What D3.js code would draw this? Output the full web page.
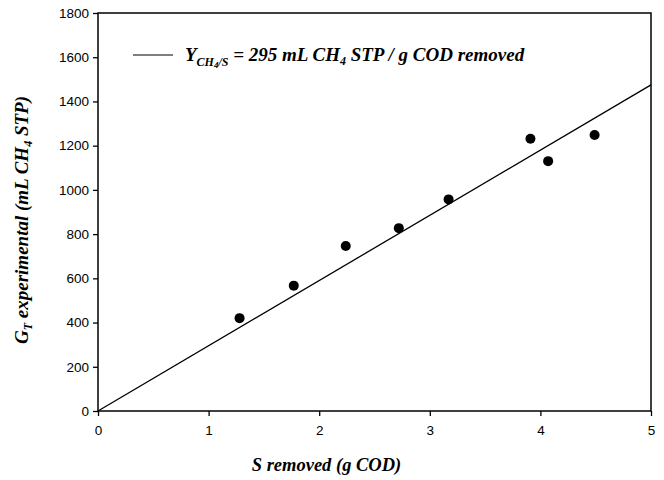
<!DOCTYPE html>
<html>
<head>
<meta charset="utf-8">
<script src="https://cdn.jsdelivr.net/npm/d3@7"></script>
<style>
  body { margin: 0; background: #fff; }
  .tick text { font-family: Arial, "Liberation Sans", sans-serif; font-size: 13.5px; }
  .title { font-family: "Times New Roman", "Liberation Serif", serif; font-weight: bold; font-style: italic; }
</style>
</head>
<body>
<div id="chart"></div>
<script>
// measured data: S removed (g COD) vs GT experimental (mL CH4 STP)
const sRemoved = [1.28, 1.77, 2.24, 2.72, 3.17, 3.91, 4.07, 4.49];
const gtExperimental = [420, 567, 746, 827, 957, 1231, 1130, 1248];
const yieldCoef = 295; // mL CH4 STP / g COD removed
const lineX = [0, 5];
const xTicks = [0, 1, 2, 3, 4, 5];
const yTicks = [0, 200, 400, 600, 800, 1000, 1200, 1400, 1600, 1800];

const margin = {top: 13, right: 13, bottom: 69, left: 98};
const width = 664, height = 480;
const w = width - margin.left - margin.right;
const h = height - margin.top - margin.bottom;

const svg = d3.select('#chart').append('svg')
  .attr('width', width).attr('height', height);

const chart = svg.append('g')
  .attr('transform', `translate(${margin.left},${margin.top})`);

const x = d3.scaleLinear().domain([0, 5]).range([0, w]);
const y = d3.scaleLinear().domain([0, 1800]).range([h, 0]);

// axes
const xAxis = chart.append('g')
  .attr('transform', `translate(0,${h})`)
  .call(d3.axisBottom(x).tickValues(xTicks).tickSize(5).tickPadding(9).tickFormat(d3.format('d')));
const yAxis = chart.append('g')
  .call(d3.axisLeft(y).tickValues(yTicks).tickSize(5).tickPadding(4).tickFormat(d3.format('d')));
[xAxis, yAxis].forEach(a => {
  a.select('.domain').remove();
  a.selectAll('.tick line').attr('stroke', '#000').attr('stroke-width', 1.3);
  a.selectAll('.tick text').attr('fill', '#000');
});

// frame
chart.append('rect')
  .attr('width', w).attr('height', h)
  .attr('fill', 'none').attr('stroke', '#000').attr('stroke-width', 1.5);

// regression line
chart.append('line')
  .attr('x1', x(lineX[0])).attr('y1', y(yieldCoef * lineX[0]))
  .attr('x2', x(lineX[1])).attr('y2', y(yieldCoef * lineX[1]))
  .attr('stroke', '#000').attr('stroke-width', 1.3);

// points
chart.append('g').selectAll('circle')
  .data(sRemoved.map((s, i) => ({s, g: gtExperimental[i]})))
  .enter().append('circle')
  .attr('cx', d => x(d.s))
  .attr('cy', d => y(d.g))
  .attr('r', 5)
  .attr('fill', '#000');

// legend
chart.append('line')
  .attr('x1', 35).attr('x2', 75).attr('y1', 42).attr('y2', 42)
  .attr('stroke', '#000').attr('stroke-width', 1.2);
const leg = chart.append('text').attr('class', 'title')
  .attr('x', 87).attr('y', 48).attr('font-size', 19);
leg.append('tspan').text('Y');
leg.append('tspan').attr('font-size', 12).attr('dy', 5).text('CH');
leg.append('tspan').attr('font-size', 9).attr('dy', 2).text('4');
leg.append('tspan').attr('font-size', 12).attr('dy', -2).text('/S');
leg.append('tspan').attr('dy', -5).text(' = 295 mL CH');
leg.append('tspan').attr('font-size', 12).attr('dy', 4).text('4');
leg.append('tspan').attr('dy', -4).text(' STP / g COD removed');

// x axis title
chart.append('text').attr('class', 'title')
  .attr('x', w / 2 - 48).attr('y', h + 60)
  .attr('text-anchor', 'middle').attr('font-size', 18.5)
  .text('S removed (g COD)');

// y axis title
const yt = svg.append('text').attr('class', 'title')
  .attr('transform', `translate(28,${margin.top + h / 2 + 8}) rotate(-90)`)
  .attr('text-anchor', 'middle').attr('font-size', 19);
yt.append('tspan').text('G');
yt.append('tspan').attr('font-size', 12).attr('dy', 4).text('T');
yt.append('tspan').attr('dy', -4).text(' experimental (mL CH');
yt.append('tspan').attr('font-size', 12).attr('dy', 4).text('4');
yt.append('tspan').attr('dy', -4).text(' STP)');
</script>
</body>
</html>
